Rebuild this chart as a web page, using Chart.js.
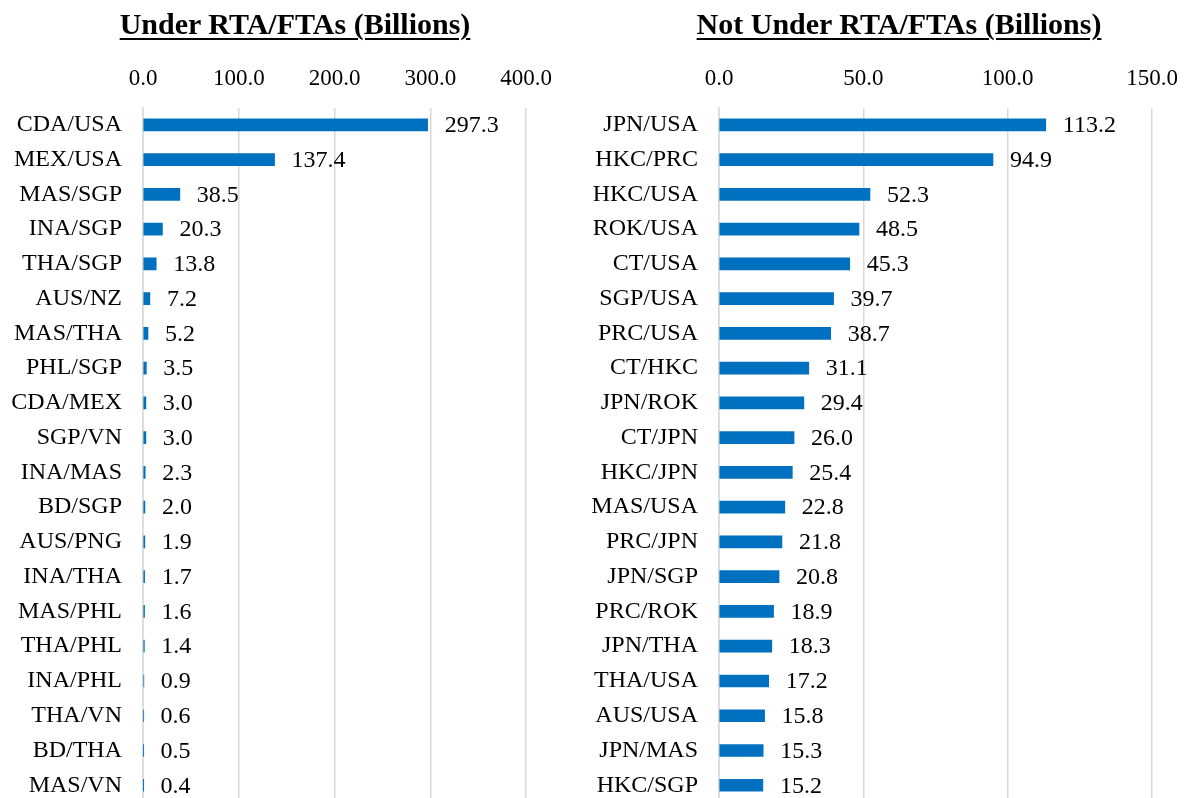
<!DOCTYPE html>
<html>
<head>
<meta charset="utf-8">
<script src="https://cdn.jsdelivr.net/npm/chart.js@4.4.0/dist/chart.umd.min.js"></script>
<style>
  html, body { margin: 0; padding: 0; background: #fff; overflow: hidden; width: 1188px; height: 798px; position: relative; }
  .title { position: absolute; top: 9px; font-family: "Liberation Serif", "Times New Roman", serif;
           font-weight: bold; font-size: 30px; line-height: 30px; text-decoration: underline;
           text-decoration-thickness: 2px; text-underline-offset: 4px; color: #000; white-space: nowrap;
           transform: translateX(-50%); z-index: 2; }
  canvas { position: absolute; top: 0; }
</style>
</head>
<body>
<div class="title" style="left:295px">Under RTA/FTAs (Billions)</div>
<div class="title" style="left:899px">Not Under RTA/FTAs (Billions)</div>
<canvas id="left" width="590" height="838" style="left:0"></canvas>
<canvas id="right" width="610" height="838" style="left:590px"></canvas>
<script>
const rtaPairs = ['CDA/USA','MEX/USA','MAS/SGP','INA/SGP','THA/SGP','AUS/NZ','MAS/THA','PHL/SGP','CDA/MEX','SGP/VN',
  'INA/MAS','BD/SGP','AUS/PNG','INA/THA','MAS/PHL','THA/PHL','INA/PHL','THA/VN','BD/THA','MAS/VN'];
const rtaValues = [297.3,137.4,38.5,20.3,13.8,7.2,5.2,3.5,3.0,3.0,2.3,2.0,1.9,1.7,1.6,1.4,0.9,0.6,0.5,0.4];

const nonRtaPairs = ['JPN/USA','HKC/PRC','HKC/USA','ROK/USA','CT/USA','SGP/USA','PRC/USA','CT/HKC','JPN/ROK','CT/JPN',
  'HKC/JPN','MAS/USA','PRC/JPN','JPN/SGP','PRC/ROK','JPN/THA','THA/USA','AUS/USA','JPN/MAS','HKC/SGP'];
const nonRtaValues = [113.2,94.9,52.3,48.5,45.3,39.7,38.7,31.1,29.4,26.0,25.4,22.8,21.8,20.8,18.9,18.3,17.2,15.8,15.3,15.2];

const FONT = '"Liberation Serif", "Times New Roman", serif';
const BLUE = '#0070C0';
const GRID = '#d9d9d9';

const valueLabels = {
  id: 'valueLabels',
  afterDatasetsDraw(chart) {
    const ctx = chart.ctx;
    ctx.save();
    ctx.font = '24px ' + FONT;
    ctx.fillStyle = '#000';
    ctx.textAlign = 'left';
    ctx.textBaseline = 'middle';
    chart.getDatasetMeta(0).data.forEach((bar, i) => {
      ctx.fillText(chart.data.datasets[0].data[i].toFixed(1), bar.x + 17, bar.y + 1);
    });
    ctx.restore();
  }
};

function makeChart(id, labels, values, max, step, yWidth, padRight) {
  return new Chart(document.getElementById(id), {
    type: 'bar',
    data: {
      labels: labels,
      datasets: [{ data: values, backgroundColor: BLUE, barThickness: 12 }]
    },
    options: {
      indexAxis: 'y',
      responsive: false,
      animation: false,
      devicePixelRatio: 1,
      layout: { padding: { top: 60, right: padRight, bottom: 6, left: 0 } },
      plugins: { legend: { display: false }, tooltip: { enabled: false } },
      scales: {
        x: {
          position: 'top',
          min: 0, max: max,
          ticks: { stepSize: step, padding: 15, color: '#000', font: { family: FONT, size: 23 },
                   callback: v => v.toFixed(1) },
          grid: { color: GRID, lineWidth: 1.5, drawTicks: false },
          border: { display: false },
          afterFit: s => { s.height = 47.5; }
        },
        y: {
          ticks: { padding: 21, color: '#000', font: { family: FONT, size: 24 } },
          grid: { display: false, drawTicks: false },
          border: { display: true, color: GRID, width: 1.5 },
          afterFit: s => { s.width = yWidth; }
        }
      }
    },
    plugins: [valueLabels]
  });
}

makeChart('left', rtaPairs, rtaValues, 400, 100, 143, 64);
// right canvas runs past the window edge so the top tick padding does not squeeze the plot
makeChart('right', nonRtaPairs, nonRtaValues, 150, 50, 129, 48);
</script>
</body>
</html>
